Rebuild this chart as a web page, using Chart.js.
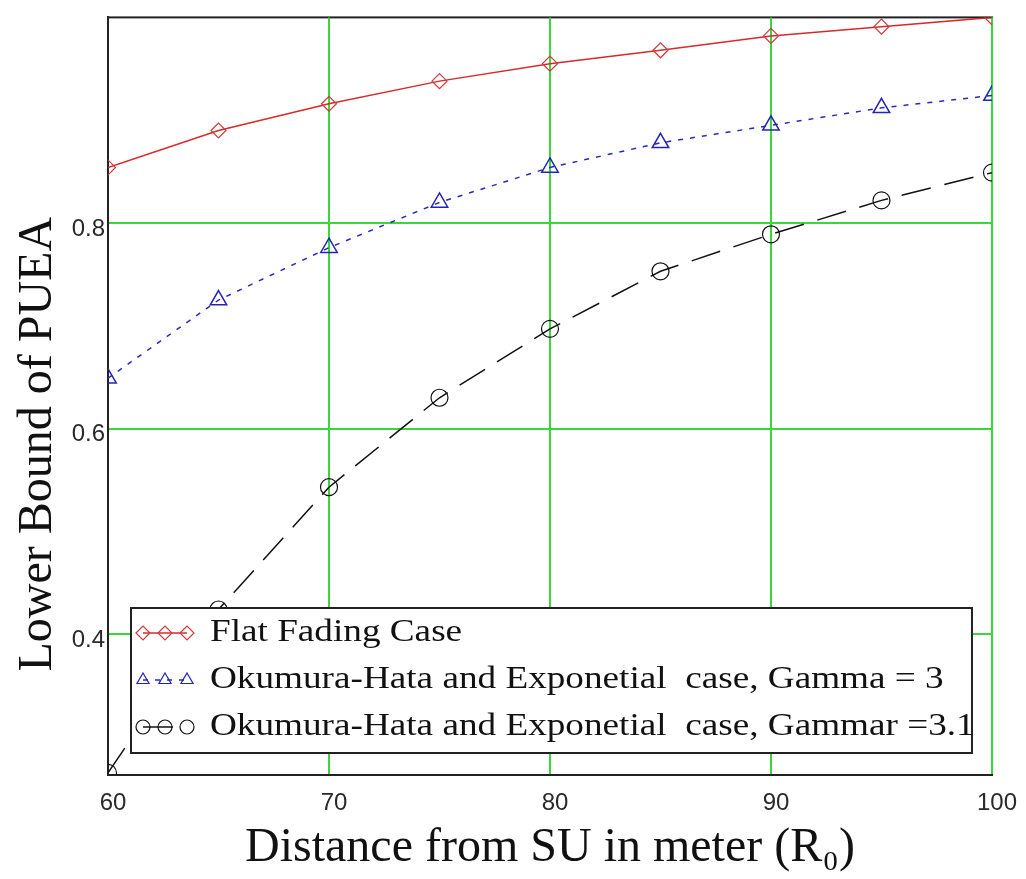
<!DOCTYPE html>
<html>
<head>
<meta charset="utf-8">
<title>Lower Bound of PUEA</title>
<script src="https://cdn.jsdelivr.net/npm/chart.js@4.4.0/dist/chart.umd.min.js"></script>
<style>
    html, body { margin: 0; padding: 0; background: #fff; }
    #wrap { width: 1026px; height: 879px; }
</style>
</head>
<body>
<div id="wrap"><canvas id="pueaChart"></canvas></div>
<script>
// Distance from SU (m)
const distances = [60, 65, 70, 75, 80, 85, 90, 95, 100];

// Lower bound of PUEA, one array per case
const flatFading = [0.854, 0.890, 0.916, 0.938, 0.955, 0.968, 0.982, 0.991, 1.0];
const hataGamma3 = [0.649, 0.725, 0.776, 0.820, 0.854, 0.878, 0.895, 0.912, 0.924];
const hataGamma31 = [0.265, 0.424, 0.543, 0.630, 0.697, 0.753, 0.789, 0.822, 0.849];

const seriesLabels = [
    'Flat Fading Case',
    'Okumura-Hata and Exponetial  case, Gamma = 3',
    'Okumura-Hata and Exponetial  case, Gammar =3.1'
];

const xTicks = [60, 70, 80, 90, 100];
const yTicks = [0.4, 0.6, 0.8];

const green = '#3ad63a';
const frameColor = '#222';

function toPoints(values) {
    return values.map((v, i) => ({ x: distances[i], y: v }));
}

// simple marker painter for the legend samples
function drawMarker(ctx, style, x, y, r, color) {
    ctx.save();
    ctx.strokeStyle = color;
    ctx.lineWidth = 1.2;
    ctx.beginPath();
    if (style === 'rectRot') {
        ctx.moveTo(x - r, y);
        ctx.lineTo(x, y - r);
        ctx.lineTo(x + r, y);
        ctx.lineTo(x, y + r);
        ctx.closePath();
    } else if (style === 'triangle') {
        ctx.moveTo(x, y - r);
        ctx.lineTo(x + r * 0.866, y + r * 0.5);
        ctx.lineTo(x - r * 0.866, y + r * 0.5);
        ctx.closePath();
    } else {
        ctx.arc(x, y, r, 0, Math.PI * 2);
    }
    ctx.stroke();
    ctx.restore();
}

// black frame round the plot area (grid line at 100 is drawn on top of it)
const frameBox = {
    id: 'frameBox',
    beforeDraw(chart) {
        const { ctx, chartArea: a } = chart;
        ctx.save();
        ctx.strokeStyle = frameColor;
        ctx.lineWidth = 2;
        ctx.strokeRect(a.left, a.top, a.right - a.left, a.bottom - a.top);
        ctx.restore();
    }
};

// boxed legend sitting inside the bottom of the plot
const boxLegend = {
    id: 'boxLegend',
    afterDatasetsDraw(chart) {
        const { ctx, chartArea: a } = chart;
        const left = a.left + 23;
        const top = a.bottom - 167;
        const right = a.right - 20;
        const bottom = a.bottom - 22;

        ctx.save();
        ctx.fillStyle = '#fff';
        ctx.fillRect(left, top, right - left, bottom - top);
        ctx.strokeStyle = frameColor;
        ctx.lineWidth = 2;
        ctx.strokeRect(left, top, right - left, bottom - top);

        chart.data.datasets.forEach((ds, i) => {
            const y = top + 25 + i * 47;
            ctx.save();
            ctx.strokeStyle = ds.borderColor;
            ctx.lineWidth = ds.borderWidth;
            ctx.setLineDash(ds.borderDash || []);
            ctx.beginPath();
            ctx.moveTo(left + 12, y);
            ctx.lineTo(left + 56, y);
            ctx.stroke();
            ctx.restore();

            [12, 34, 56].forEach(dx => {
                drawMarker(ctx, ds.pointStyle, left + dx, y, 7, ds.pointBorderColor);
            });

            ctx.save();
            ctx.translate(left + 79, y);
            ctx.scale(1.2, 1);
            ctx.fillStyle = '#111';
            ctx.font = '31px "Liberation Serif", "Times New Roman", serif';
            ctx.textBaseline = 'middle';
            ctx.fillText(ds.label, 0, 0);
            ctx.restore();
        });
        ctx.restore();
    }
};

const ctx = document.getElementById('pueaChart');
new Chart(ctx, {
    type: 'line',
    data: {
        datasets: [{
            label: seriesLabels[0],
            data: toPoints(flatFading),
            borderColor: '#d82a2a',
            borderWidth: 1.5,
            pointStyle: 'rectRot',
            pointRadius: 7.5,
            pointBorderColor: '#cc3b3b',
            pointBackgroundColor: 'rgba(0,0,0,0)',
            pointBorderWidth: 1.2,
            tension: 0
        }, {
            label: seriesLabels[1],
            data: toPoints(hataGamma3),
            borderColor: '#2a2ab8',
            borderWidth: 1.5,
            borderDash: [5, 7],
            pointStyle: 'triangle',
            pointRadius: 9.5,
            pointBorderColor: '#2424b4',
            pointBackgroundColor: 'rgba(0,0,0,0)',
            pointBorderWidth: 1.5,
            tension: 0
        }, {
            label: seriesLabels[2],
            data: toPoints(hataGamma31),
            borderColor: '#111',
            borderWidth: 1.5,
            borderDash: [30, 14],
            pointStyle: 'circle',
            pointRadius: 8.5,
            pointBorderColor: '#111',
            pointBackgroundColor: 'rgba(0,0,0,0)',
            pointBorderWidth: 1.2,
            tension: 0
        }]
    },
    options: {
        responsive: true,
        maintainAspectRatio: false,
        animation: false,
        layout: {
            padding: { top: 10, right: 34, bottom: 0, left: 0 }
        },
        plugins: {
            legend: { display: false },
            tooltip: { enabled: false }
        },
        scales: {
            x: {
                type: 'linear',
                min: 60,
                max: 100,
                afterBuildTicks: function(scale) {
                    scale.ticks = xTicks.map(v => ({ value: v }));
                },
                afterFit: function(scale) {
                    scale.height = 104;
                },
                grid: {
                    drawTicks: false,
                    lineWidth: 2,
                    color: function(c) {
                        return c.tick && c.tick.value === 60 ? 'rgba(0,0,0,0)' : green;
                    }
                },
                border: { color: frameColor, width: 2 },
                ticks: {
                    padding: 14,
                    labelOffset: 5,
                    color: '#2a2a2a',
                    font: { family: '"Liberation Sans", Arial, sans-serif', size: 24 },
                    callback: function(value) { return value; }
                },
                title: {
                    display: true,
                    text: 'Distance from SU in meter (R\u2080)',
                    color: '#111',
                    font: { family: '"Liberation Serif", "Times New Roman", serif', size: 48 },
                    padding: { top: 0, bottom: 2 }
                }
            },
            y: {
                type: 'linear',
                min: 0.263,
                max: 1.0,
                afterBuildTicks: function(scale) {
                    scale.ticks = yTicks.map(v => ({ value: v }));
                },
                afterFit: function(scale) {
                    scale.width = 108;
                },
                grid: {
                    drawTicks: false,
                    lineWidth: 2,
                    color: green
                },
                border: { color: frameColor, width: 2 },
                ticks: {
                    padding: 3,
                    labelOffset: 6,
                    color: '#2a2a2a',
                    font: { family: '"Liberation Sans", Arial, sans-serif', size: 24 },
                    callback: function(value) { return value.toFixed(1); }
                },
                title: {
                    display: true,
                    // trailing spaces push the centred title down the axis as in the original
                    text: 'Lower Bound of PUEA        ',
                    color: '#111',
                    font: { family: '"Liberation Serif", "Times New Roman", serif', size: 48 },
                    padding: { top: 10, bottom: 0 }
                }
            }
        }
    },
    plugins: [frameBox, boxLegend]
});
</script>
</body>
</html>
